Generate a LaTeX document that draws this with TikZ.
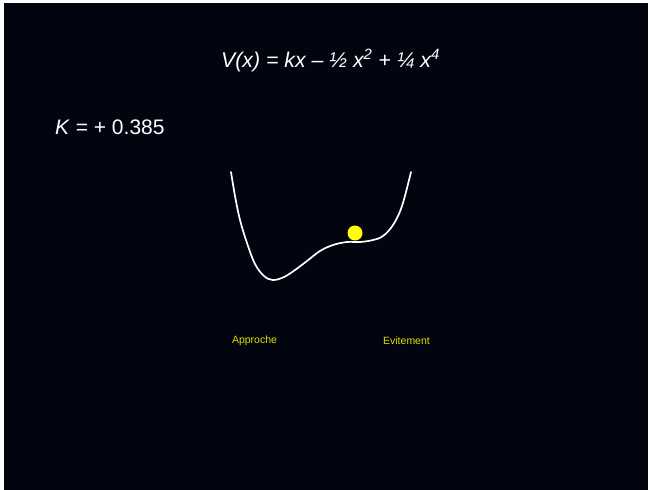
\documentclass[tikz,border=0pt]{standalone}
\usepackage{fontspec}
\setmainfont{Liberation Sans}
\usepackage{xcolor}
\usepackage{tikz}
\usetikzlibrary{positioning}
\definecolor{nuit}{RGB}{2,5,16}
\definecolor{jaune}{RGB}{255,255,0}
\definecolor{jaunepale}{RGB}{222,222,0}
\tikzset{
  % --- texts ------------------------------------------------------------------
  eqtext/.style={anchor=base,text=white,inner sep=0pt,
                 font=\fontsize{21.3}{24}\selectfont\itshape},
  ktext/.style={anchor=base west,text=white,inner sep=0pt,
                font=\fontsize{21}{24}\selectfont},
  wlab/.style={anchor=base,text=jaunepale,inner sep=0pt,
               font=\fontsize{10.5}{12}\selectfont},
  % --- potential and ball -----------------------------------------------------
  courbe/.style={white,line width=1.7pt,line cap=round},
  bille/.style={circle,fill=jaune,minimum size=15pt,inner sep=0pt},
}

\begin{document}
\begin{tikzpicture}[x=1pt, y=-1pt]
  \useasboundingbox (0,0) rectangle (651,490);
  \fill[white] (0,0) rectangle (651,490);
  \fill[nuit] (4,3) rectangle (648,490);

  \node[eqtext] (eq) at (330.5,67) {V(x) = kx -- ½ x\textsuperscript{2} + ¼ x\textsuperscript{4}};
  \node[ktext] (k) at (55,134) {\textit{K} = + 0.385};

  \draw[courbe] plot[smooth,tension=0.6] coordinates {
    (231,172) (235,196) (240,220) (247,243) (255,264) (264,276) (273,280)
    (284,277) (295,270) (307,261) (320,251) (333,245) (347,242) (360,242)
    (373,240) (383,236) (393,225) (402,206) (411,172)};
  \node[bille] (ball) at (355,233) {};

  \node[wlab] (app) at (254.5,343.5) {Approche};
  \node[wlab] (evi) at (406.5,344) {Evitement};
\end{tikzpicture}
\end{document}
